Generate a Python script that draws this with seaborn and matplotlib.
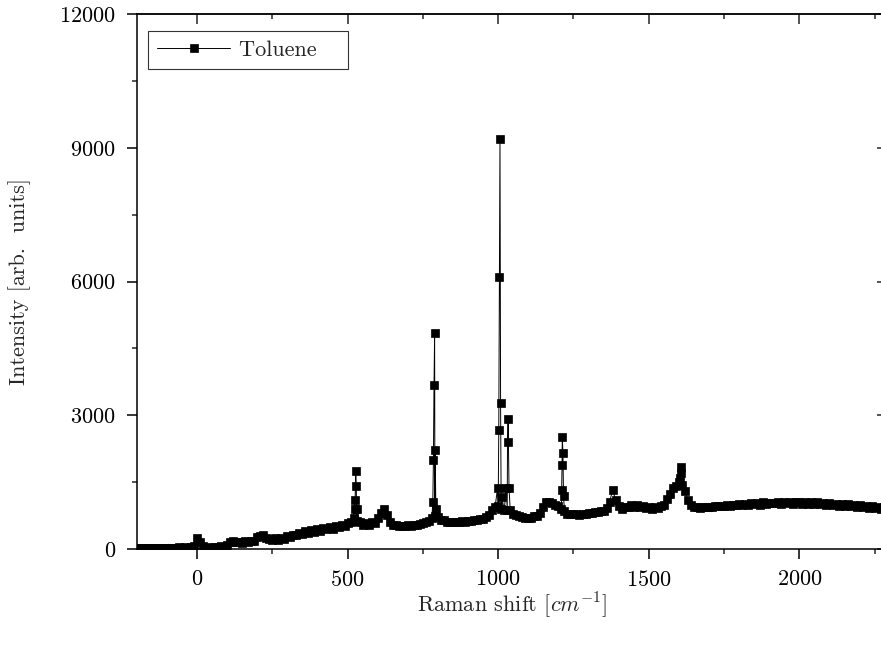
import numpy as np
import pandas as pd
import matplotlib
matplotlib.use("Agg")
import matplotlib.pyplot as plt
import seaborn as sns

# ---- data ----
# baseline samples every 10 cm^-1 from -200 to 2290
base_start, base_step = -200, 10
base_intensity = [
    15, 28, 12, 26, 14, 30, 16, 12, 28, 15, 32, 18, 14, 30, 36, 18, 38, 22, 40, 70,     # -200..-10
    235, 150, 60, 25, 45, 22, 52, 35, 62, 45,                                          # 0..90
    100, 150, 185, 150, 165, 130, 175, 150, 190, 185,                                  # 100..190
    260, 300, 320, 255, 230, 195, 238, 205, 255, 228,                                  # 200..290
    280, 262, 320, 305, 360, 338, 400, 365, 420, 385,                                  # 300..390
    440, 405, 462, 438, 492, 455, 522, 482, 545, 512,                                  # 400..490
    580, 600, 700, 630, 610, 540, 585, 545, 600, 575,                                  # 500..590
    700, 800, 890, 760, 610, 530, 530, 505, 520, 510,                                  # 600..690
    530, 525, 548, 545, 570, 575, 600, 630, 700, 750,                                  # 700..790
    715, 650, 640, 615, 615, 600, 610, 600, 625, 600,                                  # 800..890
    630, 625, 648, 650, 665, 680, 715, 760, 870, 950,                                  # 900..990
    970, 890, 870, 880, 870, 790, 765, 730, 725, 690,                                  # 1000..1090
    695, 690, 730, 735, 810, 950, 1055, 1045, 1025, 990,                               # 1100..1190
    960, 890, 850, 790, 790, 775, 780, 770, 795, 785,                                  # 1200..1290
    810, 800, 825, 820, 845, 855, 910, 1050, 1330, 1090,                               # 1300..1390
    960, 905, 950, 935, 985, 950, 980, 935, 965, 915,                                  # 1400..1490
    950, 905, 950, 920, 975, 995, 1110, 1240, 1370, 1410,                              # 1500..1590
    1510, 1430, 1310, 1090, 990, 945, 950, 930, 940, 935,                              # 1600..1690
    950, 945, 960, 955, 970, 965, 980, 975, 990, 985,                                  # 1700..1790
    1000, 995, 1010, 985, 1025, 1005, 1035, 995, 1045, 1005,                           # 1800..1890
    1040, 1025, 1030, 1050, 1015, 1045, 1025, 1060, 1020, 1045,                        # 1900..1990
    1050, 1015, 1045, 1010, 1060, 1015, 1045, 1005, 1040, 995,                         # 2000..2090
    1030, 985, 1020, 975, 1010, 965, 1000, 955, 990, 945,                              # 2100..2190
    985, 935, 970, 925, 960, 915, 950, 905, 940, 895,                                  # 2200..2290
]

# sharp peaks sampled more finely
peak_shift = [523, 525, 527, 529, 531,
              783, 785, 787, 789, 791, 793,
              998, 1002, 1004, 1006, 1008, 1012,
              1027, 1031, 1033, 1036,
              1211, 1212, 1213, 1215, 1217,
              1604, 1606, 1608]
peak_intensity = [900, 1100, 1760, 1420, 900,
                  1060, 2000, 3680, 4850, 2220, 890,
                  1370, 2670, 6100, 9200, 3270, 1170,
                  1370, 2400, 2920, 1370,
                  1325, 1890, 2520, 2150, 1190,
                  1600, 1850, 1700]

base_shift = list(range(base_start, base_start + base_step * len(base_intensity), base_step))
df = pd.DataFrame({"shift": base_shift + peak_shift,
                   "intensity": base_intensity + peak_intensity})
df = df.groupby("shift", as_index=False).max().sort_values("shift")

# ---- style ----
sns.set_style("ticks")
plt.rcParams["font.family"] = ["cmr10", "DejaVu Serif"]
plt.rcParams["mathtext.fontset"] = "cm"
plt.rcParams["axes.formatter.use_mathtext"] = True
plt.rcParams["axes.unicode_minus"] = False

fig = plt.figure(figsize=(8.81, 6.46), dpi=100)
ax = fig.add_axes([0.1552, 0.1502, 0.8513, 0.828])

sns.lineplot(data=df, x="shift", y="intensity", ax=ax, color="black",
             linewidth=0.7, marker="s", markersize=5.8, markeredgecolor="black",
             markeredgewidth=0.5, label="Toluene   ", sort=True, estimator=None)

ax.set_xlim(-200, 2290)
ax.set_ylim(0, 12000)
ax.set_xticks([0, 500, 1000, 1500, 2000])
ax.set_xticks([250, 750, 1250, 1750, 2250], minor=True)
ax.set_yticks([0, 3000, 6000, 9000, 12000])
ax.set_yticks([1500, 4500, 7500, 10500], minor=True)

for s in ax.spines.values():
    s.set_linewidth(1.1)
    s.set_color("black")
ax.spines["right"].set_visible(False)

ax.tick_params(axis="both", which="major", direction="out", length=7, width=1.1,
               labelsize=16, pad=8, colors="black")
ax.tick_params(axis="both", which="minor", direction="out", length=3.5, width=1.1)
ax.tick_params(top=False, right=False)

secx = ax.secondary_xaxis("top")
secx.set_xticks([0, 500, 1000, 1500, 2000])
secx.set_xticks([250, 750, 1250, 1750, 2250], minor=True)
secx.tick_params(which="major", direction="in", length=7, width=1.1, labeltop=False)
secx.tick_params(which="minor", direction="in", length=3.5, width=1.1)
secx.spines["top"].set_linewidth(1.1)

secy = ax.secondary_yaxis("right")
secy.set_yticks([0, 3000, 6000, 9000, 12000])
secy.set_yticks([1500, 4500, 7500, 10500], minor=True)
secy.tick_params(which="major", direction="in", length=7, width=1.1, labelright=False)
secy.tick_params(which="minor", direction="in", length=3.5, width=1.1)
for s in secy.spines.values():
    s.set_visible(False)

ax.set_xlabel(r"Raman shift [$cm^{-1}$]", fontsize=16, labelpad=0)
ax.set_ylabel("Intensity [arb.  units]", fontsize=16, labelpad=20)

leg = ax.legend(loc="upper left", bbox_to_anchor=(0.015, 0.968), borderaxespad=0,
                fontsize=16, frameon=True, fancybox=False, edgecolor="black",
                handlelength=3.3, handletextpad=0.4, borderpad=0.4)
leg.get_frame().set_linewidth(0.8)

fig.savefig("out.png", dpi=100, facecolor="white")
